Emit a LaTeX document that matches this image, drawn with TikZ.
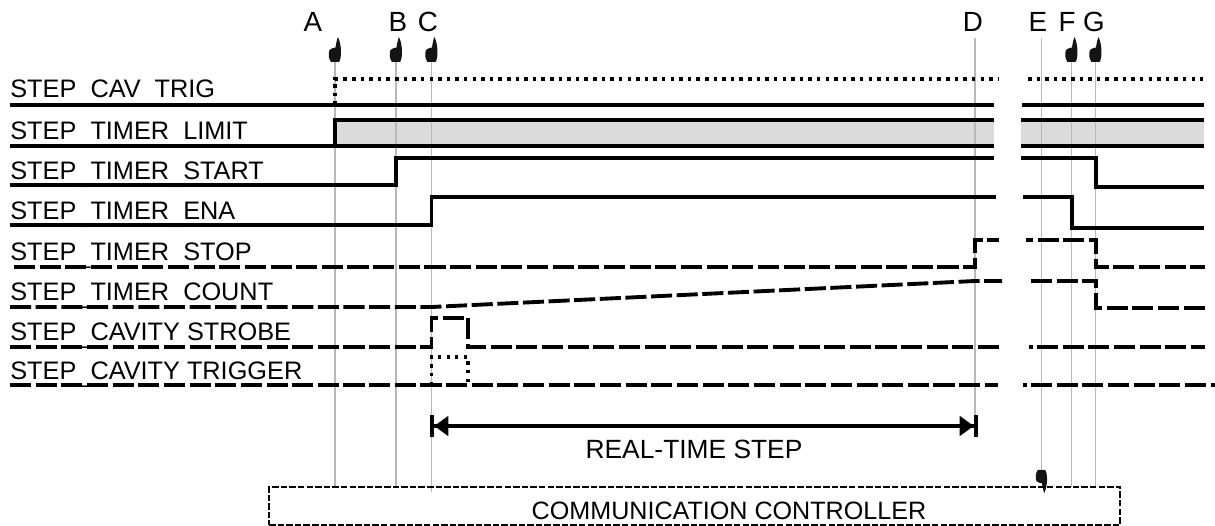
\documentclass[tikz,border=0pt]{standalone}
\usepackage{fontspec}
\setmainfont{Liberation Sans}
\usetikzlibrary{arrows.meta}

\newcommand{\sigbar}{\raisebox{-1.4pt}{\_}}

\tikzset{
    sigsolid/.style={line width=2.2pt,line join=miter},
    sigdash/.style={line width=2.2pt,dash pattern=on 12pt off 2.6pt},
    sigdot/.style={line width=2.2pt,dash pattern=on 2pt off 2.9pt},
    marker/.style={line width=0.75pt,black!28},
    siglabel/.style={anchor=base west,inner sep=0pt,font=\fontsize{14.4}{16}\selectfont},
    steplabel/.style={anchor=base,inner sep=0pt,font=\fontsize{15.8}{18}\selectfont},
    hand/.pic={
        \fill[black!92] (-4,0) .. controls (-6.5,-3) and (-7,-9) .. (-5.5,-12)
            .. controls (-4,-14) and (-1,-14) .. (0.5,-14.5)
            .. controls (1,-18) and (2,-23) .. (3,-25)
            .. controls (5,-21) and (6,-15) .. (6,-10)
            .. controls (6,-6) and (5.5,-2) .. (4,0) -- cycle;
    }
}

\begin{document}
\begin{tikzpicture}[x=0.02cm,y=-0.02cm]
    \useasboundingbox (0,0) rectangle (1215,526);
    % markers
    \fill[black!14] (335,120) rectangle (994,146);
    \fill[black!14] (1021,120) rectangle (1204,146);
    \foreach \x/\yend in {335/487,396/487,431.5/492,975/437,1041.5/470,1071.5/487,1095.5/487}{
        \draw[marker] (\x,62) -- (\x,\yend);
    }
    \draw[marker] (975,38) -- (975,62);
    \draw[marker] (1041.5,38) -- (1041.5,62);
    \foreach \x in {335,396,431.5,1071.5,1095.5}{
        \pic at (\x,62) {hand};
    }
    \pic[yscale=-1,scale=0.92] at (1041.5,470) {hand};
    \foreach \lab/\x in {A/313,B/398,C/428,D/973,E/1038,F/1067,G/1094}{
        \node[steplabel] (mark\lab) at (\x,32) {\lab};
    }
    % signal names
    \foreach \name/\lab/\y in {cavtrig/CAV\sigbar TRIG/98,limit/TIMER\sigbar LIMIT/140,start/TIMER\sigbar START/180,
        ena/TIMER\sigbar ENA/220,stop/TIMER\sigbar STOP/261,count/TIMER\sigbar COUNT/301,
        strobe/CAVITY STROBE/341,trigger/CAVITY TRIGGER/380}{
        \node[siglabel] (\name) at (10,\y) {STEP\sigbar \lab};
    }
    % solid traces
    \draw[sigsolid] (10,105) -- (994,105);
    \draw[sigsolid] (1022,105) -- (1204,105);
    \draw[sigsolid] (10,146) -- (335,146) -- (335,120) -- (994,120);
    \draw[sigsolid] (335,146) -- (994,146);
    \draw[sigsolid] (1021,120) -- (1204,120);
    \draw[sigsolid] (1021,146) -- (1204,146);
    \draw[sigsolid] (10,185) -- (396,185) -- (396,158) -- (994,158);
    \draw[sigsolid] (1021,158) -- (1096,158) -- (1096,187) -- (1204,187);
    \draw[sigsolid] (10,225) -- (431.5,225) -- (431.5,197) -- (996,197);
    \draw[sigsolid] (1023,197) -- (1072,197) -- (1072,228) -- (1204,228);
    % dashed traces
    \draw[sigdash] (14,267) -- (975,267) -- (975,240) -- (999,240);
    \draw[sigdash,dash phase=8pt] (1026,240) -- (1096,240) -- (1096,267) -- (1205,267);
    \draw[sigdash] (10,307) -- (431.5,307) -- (975,281) -- (1002,281);
    \draw[sigdash] (1031,281) -- (1096,281) -- (1096,308) -- (1205,308);
    \draw[sigdash] (10,347) -- (431.5,347) -- (431.5,318) -- (468,318) -- (468,347) -- (1002,347);
    \draw[sigdash,dash phase=10pt] (1029,347) -- (1205,347);
    \draw[sigdash] (10,385) -- (998,385);
    \draw[sigdash,dash phase=10pt] (1023,385) -- (1215,385);
    % dotted traces
    \draw[sigdot] (335,105) -- (335,79) -- (998,79);
    \draw[sigdot] (1028,79) -- (1203,79);
    \draw[line width=1.9pt,dash pattern=on 1.9pt off 3pt] (431.5,385) -- (431.5,357) -- (468,357) -- (468,385);
    % real-time step
    \coordinate (stepL) at (430,426);
    \coordinate (stepR) at (978,426);
    \draw[line width=2pt,{Bar[width=12.5pt,line width=2.4pt]Stealth[length=8pt,width=11pt,inset=0pt]}-{Stealth[length=8pt,width=11pt,inset=0pt]Bar[width=12.5pt,line width=2.4pt]}] (stepL) -- (stepR);
    \node[inner sep=0pt,anchor=base,font=\fontsize{15}{18}\selectfont] (steptext) at (694,459) {REAL-TIME STEP};
    % controller
    \node[draw,line width=0.75pt,dash pattern=on 3.7pt off 1.2pt,inner sep=0pt,minimum width=851*0.02cm,minimum height=38*0.02cm] (comm) at (694.5,506) {};
    \node[inner sep=0pt,anchor=base,font=\fontsize{14.3}{18}\selectfont] (commtext) at (729,520) {COMMUNICATION CONTROLLER};
\end{tikzpicture}
\end{document}
